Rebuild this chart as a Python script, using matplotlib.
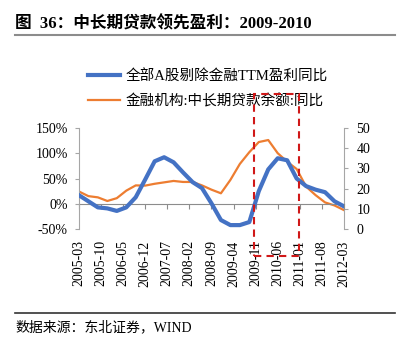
import numpy as np
import pandas as pd
import matplotlib
matplotlib.use("Agg")
import matplotlib.pyplot as plt
import matplotlib.transforms as mtransforms
from matplotlib.patches import Rectangle
from matplotlib.lines import Line2D

plt.rcParams['font.family'] = ['Liberation Serif', 'Noto Sans CJK SC']
plt.rcParams['axes.unicode_minus'] = False

# quarterly observations, 2005-03 .. 2012-03
quarters = [str(p) for p in pd.period_range('2005-03', '2012-03', freq='3M')]
# 全部A股剔除金融TTM盈利同比 (%)
profit_yoy = [17, 5, -7, -9, -14, -7, 13, 48, 84, 92, 82, 62, 43, 31, 1,
              -32, -42, -42, -36, 25, 68, 90, 86, 50, 35, 28, 23, 5, -5]
# 金融机构:中长期贷款余额:同比 (%)
loan_yoy = [18.6, 16.3, 15.7, 13.9, 15.3, 19.0, 21.6, 21.5, 22.4, 23.1, 23.8,
            23.3, 23.3, 21.6, 19.5, 17.7, 24.3, 32.2, 38.0, 43.0, 44.0, 37.5,
            33.3, 29.7, 21.0, 16.8, 13.2, 11.7, 9.4]
# month axis, a label every 7 months
months = [str(p) for p in pd.period_range('2005-03', '2012-03', freq='M')]
tick_labels = months[::7]
box_from, box_to = '2009-11', '2011-01'

xq = [months.index(q) for q in quarters]
xt = [months.index(t) for t in tick_labels]

fig = plt.figure(figsize=(4.09, 3.41), dpi=100)
ax = fig.add_axes([0.193, 0.328, 0.648, 0.297])
ax2 = ax.twinx()

blue = '#4472C4'
orange = '#ED7D31'
ax.plot(xq, profit_yoy, color=blue, lw=3.0, solid_joinstyle='round', zorder=3)
ax2.plot(xq, loan_yoy, color=orange, lw=1.6, zorder=2)
ax.set_zorder(ax2.get_zorder() + 1)
ax.patch.set_visible(False)

ax.set_xlim(0, len(months) - 1)
ax.set_ylim(-50, 150)
ax.set_yticks([-50, 0, 50, 100, 150])
ax.set_yticklabels([f'{v}%' for v in [-50, 0, 50, 100, 150]])
ax2.set_ylim(0, 50)
ax2.set_yticks([0, 10, 20, 30, 40, 50])

spine_c = '#A6A6A6'
for a in (ax, ax2):
    for s in ('top', 'bottom'):
        a.spines[s].set_visible(False)
ax.spines['right'].set_visible(False)
ax2.spines['left'].set_visible(False)
ax.spines['left'].set_color(spine_c)
ax2.spines['right'].set_color(spine_c)
ax.tick_params(axis='y', direction='out', length=3, width=0.8, color=spine_c,
               pad=5, labelsize=10)
ax2.tick_params(axis='y', direction='out', length=3, width=0.8, color=spine_c,
                pad=6, labelsize=10)

# date labels under the plot, zero line with its own ticks
ax.set_xticks(xt)
ax.set_xticklabels(tick_labels, rotation=90)
ax.tick_params(axis='x', length=0, pad=8, labelsize=10)
zero = ax.secondary_xaxis((0 + 50) / 200)
zero.set_xticks(xt)
zero.set_xticklabels([])
zero.spines['bottom'].set_color('#8C8C8C')
zero.tick_params(axis='x', direction='out', length=3.6, width=0.8, color='#8C8C8C')

# dashed box round 2009-11 .. 2011-01
trans = mtransforms.blended_transform_factory(ax.transData, ax.transAxes)
x0, x1 = months.index(box_from) - 0.5, months.index(box_to) - 0.3
box = Rectangle((x0, -0.267), x1 - x0, 1.604, transform=trans, fill=False,
                edgecolor='#D01818', lw=1.5, ls=(0, (3.5, 2.5)), clip_on=False,
                zorder=10)
fig.add_artist(box)

handles = [Line2D([], [], color=blue, lw=3.0),
           Line2D([], [], color=orange, lw=1.6)]
fig.legend(handles, ['全部A股剔除金融TTM盈利同比', '金融机构:中长期贷款余额:同比'],
           loc='upper left', bbox_to_anchor=(0.215, 0.797), frameon=False,
           fontsize=10.5, handlelength=2.2, handletextpad=0.35,
           borderaxespad=0, borderpad=0, labelspacing=0.75)

fig.text(0.037, 0.93, '图  36：中长期贷款领先盈利：2009-2010', fontsize=12,
         fontweight='bold', va='center', ha='left')
fig.add_artist(Line2D([0.037, 0.966], [0.897, 0.897], color='#8C8C8C', lw=1.5))
fig.add_artist(Line2D([0.037, 0.966], [0.082, 0.082], color='#333333', lw=1.2))
fig.text(0.037, 0.041, '数据来源：东北证券，WIND', fontsize=10, va='center', ha='left')

fig.savefig('out.png', dpi=100)
